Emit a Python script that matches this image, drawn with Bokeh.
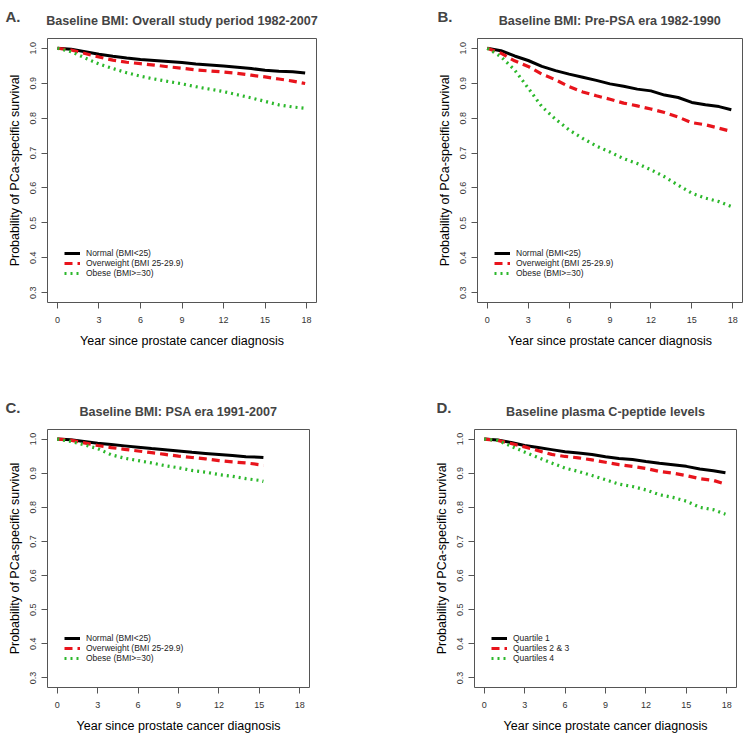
from bokeh.plotting import figure
from bokeh.layouts import column, row
from bokeh.models import Range1d, Label, Legend, LegendItem, FixedTicker, PrintfTickFormatter, Title
from bokeh.embed import file_html
from bokeh.resources import INLINE

FONT = "Liberation Sans"

# ---------------- data ----------------
x_ticks = [0, 3, 6, 9, 12, 15, 18]
y_ticks = [0.3, 0.4, 0.5, 0.6, 0.7, 0.8, 0.9, 1.0]

# Panel A: overall study period
a_time = [0, 1, 2, 3, 4, 5, 6, 7, 8, 9, 10, 11, 12, 13, 14, 15, 16, 17, 17.9]
a_normal = [1.0, 0.997, 0.990, 0.983, 0.977, 0.972, 0.968, 0.965, 0.962, 0.959, 0.955, 0.952, 0.949, 0.946, 0.942, 0.937, 0.934, 0.933, 0.929]
a_over = [1.0, 0.995, 0.985, 0.975, 0.966, 0.960, 0.956, 0.952, 0.947, 0.943, 0.938, 0.935, 0.932, 0.928, 0.923, 0.918, 0.912, 0.906, 0.899]
a_obese = [1.0, 0.990, 0.972, 0.955, 0.942, 0.930, 0.920, 0.912, 0.905, 0.898, 0.890, 0.883, 0.876, 0.867, 0.858, 0.848, 0.838, 0.832, 0.828]

# Panel B: pre-PSA era
b_time = [0, 1, 2, 3, 4, 5, 6, 7, 8, 9, 10, 11, 12, 13, 14, 15, 16, 17, 17.9]
b_normal = [1.0, 0.993, 0.978, 0.965, 0.948, 0.936, 0.926, 0.917, 0.908, 0.898, 0.891, 0.883, 0.878, 0.866, 0.859, 0.845, 0.838, 0.833, 0.824]
b_over = [1.0, 0.986, 0.964, 0.948, 0.926, 0.910, 0.890, 0.875, 0.864, 0.854, 0.843, 0.835, 0.826, 0.816, 0.803, 0.787, 0.781, 0.771, 0.762]
b_obese = [1.0, 0.976, 0.938, 0.886, 0.833, 0.797, 0.766, 0.742, 0.720, 0.703, 0.684, 0.670, 0.652, 0.632, 0.608, 0.585, 0.571, 0.561, 0.547]

# Panel C: PSA era
c_time = [0, 1, 2, 3, 4, 5, 6, 7, 8, 9, 10, 11, 12, 13, 14, 15, 15.3]
c_normal = [1.0, 0.998, 0.993, 0.988, 0.984, 0.980, 0.976, 0.972, 0.969, 0.965, 0.961, 0.958, 0.955, 0.952, 0.948, 0.947, 0.946]
c_over = [1.0, 0.997, 0.989, 0.981, 0.975, 0.970, 0.965, 0.960, 0.955, 0.950, 0.946, 0.942, 0.937, 0.933, 0.930, 0.925, 0.922]
c_obese = [1.0, 0.993, 0.983, 0.972, 0.954, 0.944, 0.937, 0.930, 0.922, 0.916, 0.908, 0.903, 0.896, 0.891, 0.884, 0.879, 0.876]

# Panel D: plasma C-peptide
d_time = [0, 1, 2, 3, 4, 5, 6, 7, 8, 9, 10, 11, 12, 13, 14, 15, 16, 17, 17.9]
d_q1 = [1.0, 0.997, 0.990, 0.981, 0.975, 0.969, 0.963, 0.959, 0.955, 0.948, 0.943, 0.940, 0.934, 0.929, 0.925, 0.920, 0.912, 0.907, 0.901]
d_q23 = [1.0, 0.996, 0.987, 0.977, 0.966, 0.955, 0.949, 0.945, 0.939, 0.932, 0.925, 0.920, 0.914, 0.905, 0.900, 0.893, 0.884, 0.879, 0.868]
d_q4 = [1.0, 0.996, 0.979, 0.962, 0.946, 0.930, 0.915, 0.905, 0.893, 0.881, 0.868, 0.861, 0.851, 0.837, 0.829, 0.818, 0.800, 0.793, 0.780]

bmi_labels = ["Normal (BMI<25)", "Overweight (BMI 25-29.9)", "Obese (BMI>=30)"]
cpep_labels = ["Quartile 1", "Quartiles 2 & 3", "Quartiles 4"]

COLORS = ["#000000", "#e8141c", "#2cb82c"]
WIDTHS = [3, 3.2, 3.2]
DASHES = ["solid", "8 5", "2 4"]

X0, X1 = -0.72, 18.72
Y0, Y1 = 0.272, 1.028


def panel(letter, letter_dx, letter_side, title, t, series, labels,
          fl, fw, fr, ft, fh, fb):
    p = figure(output_backend="svg", toolbar_location=None,
               frame_width=fw, frame_height=fh,
               min_border_left=fl, min_border_right=fr,
               min_border_top=ft, min_border_bottom=fb,
               x_range=Range1d(X0, X1), y_range=Range1d(Y0, Y1))
    p.title = Title(text=title, align="center", text_font=FONT,
                    text_font_size="12.6px", text_font_style="bold", standoff=21)
    p.grid.visible = False
    p.outline_line_color = "#555555"
    p.outline_line_width = 1
    p.background_fill_color = "white"
    p.border_fill_color = "white"

    for ax in (p.xaxis[0], p.yaxis[0]):
        ax.axis_line_color = None
        ax.major_tick_line_color = "#555555"
        ax.major_tick_in = 0
        ax.major_tick_out = 6
        ax.minor_tick_line_color = None
        ax.major_label_text_font = FONT
        ax.major_label_text_font_size = "9px"
        ax.major_label_text_color = "#333333"
        ax.axis_label_text_font = FONT
        ax.axis_label_text_font_size = "12.5px"
        ax.axis_label_text_font_style = "normal"
        ax.axis_label_text_color = "#000000"

    p.xaxis.ticker = FixedTicker(ticks=x_ticks)
    p.yaxis.ticker = FixedTicker(ticks=y_ticks)
    p.yaxis.formatter = PrintfTickFormatter(format="%.1f")
    p.yaxis.major_label_orientation = "vertical"
    p.xaxis.axis_label = "Year since prostate cancer diagnosis"
    p.yaxis.axis_label = "Probability of PCa-specific survival"
    p.xaxis.major_label_standoff = 8
    p.xaxis.axis_label_standoff = 8
    p.yaxis.major_label_standoff = 5
    p.yaxis.axis_label_standoff = 6

    items = []
    for vals, lab, col, w, d in zip(series, labels, COLORS, WIDTHS, DASHES):
        r = p.line(t, vals, line_color=col, line_width=w, line_dash=d)
        items.append(LegendItem(label=lab, renderers=[r]))

    leg = Legend(items=items, location=(17, 24), padding=0, margin=0,
                 border_line_color=None, background_fill_alpha=0,
                 label_text_font=FONT, label_text_font_size="8.5px",
                 label_text_color="#222222",
                 glyph_width=16, glyph_height=10, label_height=10,
                 label_standoff=6, spacing=0)
    p.add_layout(leg)

    # panel letter, placed in a side panel (not clipped to the frame),
    # offset in pixels from the frame's top-left corner
    lx = X0 + letter_dx * (X1 - X0) / fw
    ly = Y1 + 22.5 * (Y1 - Y0) / fh
    p.add_layout(Label(x=lx, y=ly, x_units="data", y_units="data",
                       text=letter, text_font=FONT, text_font_size="15px",
                       text_font_style="bold", text_baseline="middle",
                       text_align="left"), letter_side)
    return p


pA = panel("A.", -42, "right", "Baseline BMI: Overall study period 1982-2007", a_time,
           [a_normal, a_over, a_obese], bmi_labels, 47, 269, 59, 38, 264, 89)
pB = panel("B.", -40, "left", "Baseline BMI: Pre-PSA era 1982-1990", b_time,
           [b_normal, b_over, b_obese], bmi_labels, 102, 265, 7, 38, 264, 89)
pC = panel("C.", -42, "right", "Baseline BMI: PSA era 1991-2007", c_time,
           [c_normal, c_over, c_obese], bmi_labels, 47, 262, 66, 38, 258, 46)
pD = panel("D.", -38, "left", "Baseline plasma C-peptide levels", d_time,
           [d_q1, d_q23, d_q4], cpep_labels, 99, 262, 13, 38, 258, 46)

layout = column(row(pA, pB, spacing=0), row(pC, pD, spacing=0), spacing=0)

open("out.html", "w").write(file_html(layout, INLINE))
